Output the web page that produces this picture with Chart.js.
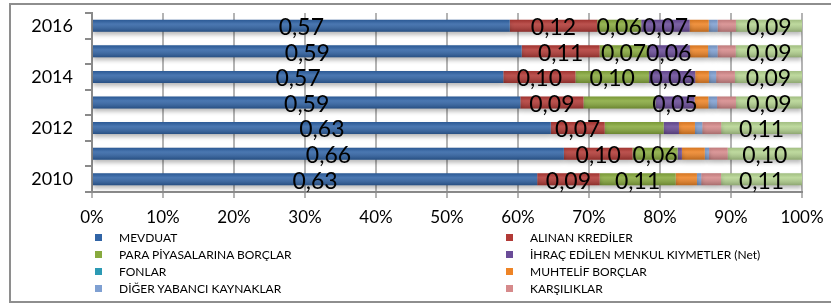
<!DOCTYPE html>
<html>
<head>
<meta charset="utf-8">
<script src="https://cdn.jsdelivr.net/npm/chart.js@4.4.0/dist/chart.umd.min.js"></script>
<style>
html, body { margin: 0; padding: 0; background: #fff; }
#wrap { position: relative; width: 831px; height: 307px; overflow: hidden; }
#frame { position: absolute; left: 9px; top: 3px; width: 860px; height: 300px; border: 2px solid #8e8e8e; box-sizing: border-box; }
#c { position: absolute; left: 0; top: 0; }
#legend { position: absolute; left: 95px; top: 229px; display: grid; grid-template-columns: 411px 300px; grid-auto-rows: 17px; font: 12px Lato, sans-serif; color: #000; }
.item { display: flex; align-items: center; white-space: nowrap; }
.box { width: 7px; height: 7px; margin-right: 17px; flex: none; }
</style>
</head>
<body>
<div id="wrap">
  <div id="frame"></div>
  <canvas id="c" width="831" height="307"></canvas>
  <div id="legend"></div>
</div>
<script>
// years bottom to top
const years = ['2010', '2011', '2012', '2013', '2014', '2015', '2016'];

const seriesNames = [
  'MEVDUAT', 'ALINAN KREDİLER', 'PARA PİYASALARINA BORÇLAR',
  'İHRAÇ EDİLEN MENKUL KIYMETLER (Net)', 'FONLAR', 'MUHTELİF BORÇLAR',
  'DİĞER YABANCI KAYNAKLAR', 'KARŞILIKLAR', 'ÖZKAYNAKLAR'
];

// shares
const mevduat     = [0.627, 0.660, 0.630, 0.590, 0.570, 0.590, 0.569];
const krediler    = [0.088, 0.096, 0.074, 0.087, 0.100, 0.107, 0.119];
const paraPiyasa  = [0.107, 0.063, 0.081, 0.099, 0.102, 0.066, 0.060];
const ihrac       = [0.000, 0.006, 0.021, 0.054, 0.064, 0.058, 0.066];
const fonlar      = [0, 0, 0, 0, 0, 0, 0];
const muhtelif    = [0.030, 0.032, 0.022, 0.019, 0.019, 0.025, 0.026];
const digerYK     = [0.006, 0.006, 0.010, 0.012, 0.010, 0.013, 0.012];
const karsiliklar = [0.028, 0.026, 0.026, 0.026, 0.026, 0.025, 0.025];
const ozkaynak    = [0.114, 0.104, 0.111, 0.091, 0.093, 0.091, 0.090];

// which segments carry a value label
const allOn  = [1, 1, 1, 1, 1, 1, 1];
const allOff = [0, 0, 0, 0, 0, 0, 0];
const paraLabels  = [1, 1, 0, 0, 1, 1, 1];
const ihracLabels = [0, 0, 0, 1, 1, 1, 1];

const values = [mevduat, krediler, paraPiyasa, ihrac, fonlar, muhtelif, digerYK, karsiliklar, ozkaynak];
const showLabel = [allOn, allOn, paraLabels, ihracLabels, allOff, allOff, allOff, allOff, allOn];
const colors = ['#3164a6', '#b23a36', '#88aa3e', '#6a4c98', '#2c9ab4', '#ee8426', '#7fa0d2', '#d68a8b', '#b5d491'];
const inLegend = 8;

const totals = years.map((y, i) => values.reduce((s, arr) => s + arr[i], 0));
const fmt = v => v.toFixed(2).replace('.', ',');

// soft drop shadow under the bars, then a light/dark sheen over each one
const shadePlugin = {
  id: 'barShade',
  beforeDatasetsDraw(chart) {
    const ctx = chart.ctx;
    ctx.save();
    ctx.shadowColor = 'rgba(0,0,0,0.28)';
    ctx.shadowBlur = 4;
    ctx.shadowOffsetY = 3;
  },
  afterDatasetsDraw(chart) {
    const ctx = chart.ctx;
    ctx.restore();
    ctx.save();
    chart.data.datasets.forEach((ds, di) => {
      chart.getDatasetMeta(di).data.forEach(bar => {
        const p = bar.getProps(['x', 'y', 'base', 'height'], true);
        const w = p.x - p.base;
        if (w <= 0) return;
        const top = p.y - p.height / 2;
        const g = ctx.createLinearGradient(0, top, 0, top + p.height);
        g.addColorStop(0, 'rgba(0,0,0,0.10)');
        g.addColorStop(0.35, 'rgba(255,255,255,0.12)');
        g.addColorStop(1, 'rgba(0,0,0,0.22)');
        ctx.fillStyle = g;
        ctx.fillRect(p.base, top, w, p.height);
      });
    });
    ctx.restore();
  }
};

const labelPlugin = {
  id: 'segLabels',
  afterDatasetsDraw(chart) {
    const ctx = chart.ctx;
    ctx.save();
    ctx.font = '23px Lato, sans-serif';
    ctx.fillStyle = '#000';
    ctx.textAlign = 'center';
    ctx.textBaseline = 'middle';
    chart.data.datasets.forEach((ds, di) => {
      chart.getDatasetMeta(di).data.forEach((bar, i) => {
        if (!showLabel[di][i]) return;
        const p = bar.getCenterPoint();
        ctx.fillText(fmt(values[di][i]), p.x, p.y + 2);
      });
    });
    ctx.restore();
  }
};

const datasets = values.map((arr, k) => ({
  label: seriesNames[k],
  data: arr.map((v, i) => v / totals[i] * 100),
  backgroundColor: colors[k],
  borderWidth: 0,
  categoryPercentage: 1,
  barPercentage: 0.47
}));

new Chart(document.getElementById('c'), {
  type: 'bar',
  data: { labels: years, datasets: datasets },
  options: {
    indexAxis: 'y',
    responsive: false,
    animation: false,
    layout: { padding: { left: 0, right: 29, top: 13, bottom: 0 } },
    plugins: { legend: { display: false }, tooltip: { enabled: false } },
    scales: {
      x: {
        stacked: true,
        min: 0,
        max: 100,
        afterFit: s => { s.height = 115; s.paddingLeft = 0; s.paddingRight = 0; },
        ticks: {
          stepSize: 10,
          callback: v => v + '%',
          color: '#000',
          font: { family: 'Lato', size: 17 },
          padding: 9
        },
        grid: { color: '#b4b4b4', lineWidth: 2, tickLength: 6 },
        border: { color: '#8a8a8a', width: 2 }
      },
      y: {
        stacked: true,
        reverse: true,
        afterFit: s => { s.width = 92; s.paddingTop = 0; s.paddingBottom = 0; },
        ticks: {
          autoSkip: false,
          callback: (v, i) => (i % 2 === 0 ? years[i] : ''),
          color: '#000',
          font: { family: 'Lato', size: 18 },
          padding: 12
        },
        grid: { offset: true, drawOnChartArea: false, color: '#8a8a8a', lineWidth: 2, tickLength: 7 },
        border: { color: '#8a8a8a', width: 2 }
      }
    }
  },
  plugins: [shadePlugin, labelPlugin]
});

const legend = document.getElementById('legend');
seriesNames.slice(0, inLegend).forEach((name, k) => {
  const item = document.createElement('div');
  item.className = 'item';
  const box = document.createElement('span');
  box.className = 'box';
  box.style.background = colors[k];
  const txt = document.createElement('span');
  txt.textContent = name;
  item.appendChild(box);
  item.appendChild(txt);
  legend.appendChild(item);
});
</script>
</body>
</html>
